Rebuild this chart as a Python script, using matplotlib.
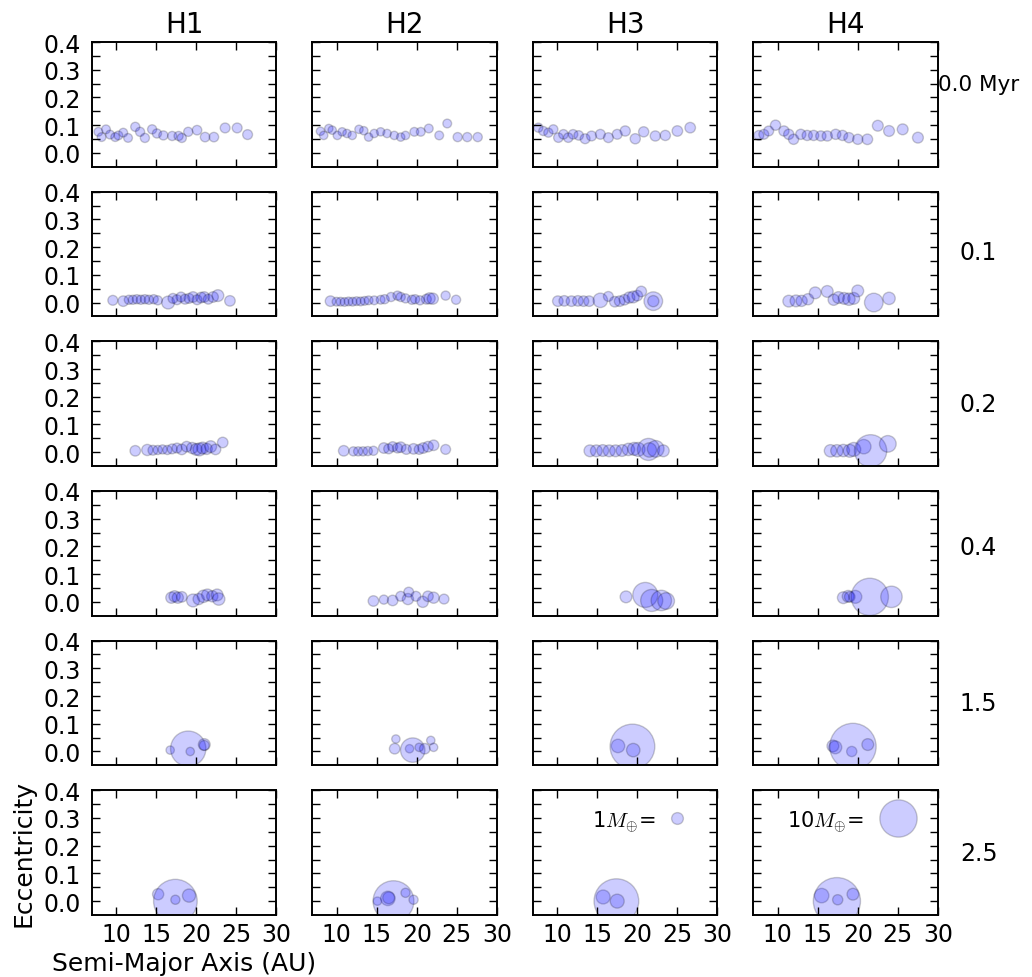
import matplotlib
matplotlib.use('Agg')
import matplotlib.pyplot as plt
import numpy as np

plt.rcParams['mathtext.fontset'] = 'cm'

runs = ['H1', 'H2', 'H3', 'H4']
times = ['0.0 Myr', '0.1', '0.2', '0.4', '1.5', '2.5']

# semi-major axis (AU), eccentricity, mass (Earth masses) for each run / snapshot

# t = 0.0 Myr
a_h1_0 = [7.8, 8.2, 8.75, 9.25, 9.9, 10.3, 10.9, 11.5, 12.4, 13.0, 13.6, 14.5, 15.1, 15.9, 17.0, 17.8, 18.2, 19.0, 20.1, 21.1, 22.2, 23.6, 25.1, 26.4]
e_h1_0 = [0.076, 0.057, 0.085, 0.066, 0.057, 0.063, 0.073, 0.054, 0.094, 0.076, 0.054, 0.085, 0.07, 0.063, 0.061, 0.061, 0.054, 0.076, 0.082, 0.057, 0.057, 0.09, 0.09, 0.066]
m_h1_0 = [0.55, 0.55, 0.55, 0.55, 0.55, 0.55, 0.55, 0.55, 0.6, 0.6, 0.6, 0.6, 0.6, 0.6, 0.6, 0.6, 0.6, 0.6, 0.65, 0.65, 0.65, 0.7, 0.7, 0.7]
a_h2_0 = [8.0, 8.4, 9.04, 9.46, 10.1, 10.7, 11.3, 11.96, 12.8, 13.4, 14.0, 14.7, 15.5, 16.3, 17.2, 18.0, 18.6, 19.7, 20.5, 21.5, 22.8, 23.8, 25.1, 26.3, 27.6]
e_h2_0 = [0.078, 0.063, 0.088, 0.082, 0.063, 0.076, 0.07, 0.063, 0.085, 0.08, 0.057, 0.07, 0.076, 0.07, 0.063, 0.057, 0.063, 0.076, 0.076, 0.088, 0.063, 0.106, 0.057, 0.057, 0.057]
m_h2_0 = [0.5, 0.5, 0.5, 0.5, 0.5, 0.5, 0.5, 0.5, 0.5, 0.5, 0.5, 0.5, 0.5, 0.5, 0.5, 0.5, 0.5, 0.55, 0.55, 0.55, 0.55, 0.55, 0.6, 0.6, 0.6]
a_h3_0 = [7.67, 8.29, 8.92, 9.54, 10.17, 10.8, 11.4, 12.0, 12.7, 13.5, 14.3, 15.4, 16.4, 17.5, 18.5, 19.75, 20.8, 22.25, 23.5, 25.0, 26.6]
e_h3_0 = [0.091, 0.079, 0.073, 0.085, 0.055, 0.067, 0.055, 0.067, 0.063, 0.051, 0.061, 0.067, 0.055, 0.067, 0.079, 0.051, 0.076, 0.061, 0.063, 0.079, 0.091]
m_h3_0 = [0.6, 0.6, 0.6, 0.6, 0.65, 0.65, 0.65, 0.65, 0.65, 0.7, 0.7, 0.7, 0.7, 0.7, 0.75, 0.75, 0.75, 0.75, 0.75, 0.8, 0.8]
a_h4_0 = [7.67, 8.29, 8.9, 9.75, 10.8, 11.4, 12.0, 12.9, 13.7, 14.5, 15.4, 16.2, 17.25, 18.1, 18.9, 20.0, 21.2, 22.5, 23.9, 25.6, 27.5]
e_h4_0 = [0.063, 0.067, 0.079, 0.1, 0.079, 0.067, 0.049, 0.067, 0.063, 0.063, 0.061, 0.061, 0.067, 0.063, 0.055, 0.049, 0.049, 0.098, 0.079, 0.085, 0.055]
m_h4_0 = [0.7, 0.7, 0.7, 0.75, 0.75, 0.75, 0.75, 0.75, 0.75, 0.75, 0.75, 0.75, 0.75, 0.75, 0.75, 0.75, 0.8, 0.85, 0.85, 0.85, 0.85]

# t = 0.1 Myr
a_h1_1 = [9.6, 10.9, 11.6, 12.1, 12.6, 13.1, 13.6, 14.1, 14.7, 15.2, 16.5, 17.1, 17.6, 18.1, 18.6, 19.1, 19.6, 20.1, 20.6, 21.0, 21.5, 22.1, 22.7, 24.2]
e_h1_1 = [0.008, 0.005, 0.01, 0.01, 0.012, 0.01, 0.012, 0.01, 0.012, 0.008, 0.0, 0.015, 0.01, 0.02, 0.012, 0.015, 0.02, 0.01, 0.018, 0.02, 0.012, 0.02, 0.025, 0.006]
m_h1_1 = [0.7, 0.8, 0.6, 0.6, 0.6, 0.6, 0.6, 0.6, 0.6, 0.6, 1.2, 0.7, 0.7, 0.7, 0.7, 0.7, 0.8, 0.7, 0.8, 0.8, 0.7, 0.8, 1.0, 0.8]
a_h2_1 = [9.25, 10.0, 10.5, 11.0, 11.5, 12.0, 12.5, 13.0, 13.5, 14.0, 14.7, 15.5, 16.0, 16.8, 17.6, 18.0, 18.6, 19.4, 19.8, 20.4, 21.2, 21.6, 22.0, 23.6, 24.9]
e_h2_1 = [0.005, 0.003, 0.003, 0.002, 0.004, 0.003, 0.005, 0.004, 0.006, 0.008, 0.008, 0.01, 0.012, 0.02, 0.025, 0.02, 0.015, 0.01, 0.012, 0.008, 0.012, 0.015, 0.014, 0.025, 0.01]
m_h2_1 = [0.8, 0.55, 0.55, 0.55, 0.55, 0.55, 0.55, 0.55, 0.55, 0.55, 0.55, 0.55, 0.6, 0.6, 0.6, 0.6, 0.6, 0.6, 0.6, 0.6, 0.7, 0.9, 0.9, 0.6, 0.6]
a_h3_1 = [10.1, 10.9, 11.8, 12.6, 13.3, 14.0, 15.4, 16.4, 17.2, 17.8, 18.4, 19.0, 19.5, 20.0, 20.5, 22.0, 22.0]
e_h3_1 = [0.005, 0.006, 0.005, 0.006, 0.005, 0.005, 0.008, 0.022, 0.003, 0.005, 0.01, 0.018, 0.02, 0.025, 0.04, 0.005, 0.005]
m_h3_1 = [0.8, 0.8, 0.8, 0.8, 0.8, 0.8, 1.5, 0.7, 0.8, 0.8, 0.8, 0.9, 1.0, 0.8, 0.8, 2.5, 0.9]
a_h4_1 = [11.4, 12.3, 13.0, 13.8, 14.7, 16.2, 17.0, 17.6, 18.3, 18.9, 19.5, 20.0, 22.0, 23.9]
e_h4_1 = [0.005, 0.006, 0.006, 0.012, 0.035, 0.04, 0.01, 0.018, 0.015, 0.012, 0.015, 0.042, 0.0, 0.015]
m_h4_1 = [1.0, 1.0, 0.9, 0.9, 1.0, 1.0, 0.9, 1.0, 1.0, 1.1, 1.0, 1.0, 2.5, 1.1]

# t = 0.2 Myr
a_h1_2 = [12.4, 13.9, 14.6, 15.2, 15.8, 16.4, 17.0, 17.6, 18.2, 18.8, 19.5, 20.0, 20.4, 20.8, 21.3, 21.8, 22.4, 23.3]
e_h1_2 = [0.005, 0.008, 0.007, 0.008, 0.01, 0.008, 0.012, 0.015, 0.01, 0.02, 0.015, 0.01, 0.01, 0.015, 0.012, 0.02, 0.01, 0.035]
m_h1_2 = [0.8, 0.9, 0.7, 0.6, 0.6, 0.6, 0.7, 0.7, 0.8, 0.8, 0.9, 1.0, 1.2, 1.0, 0.9, 1.0, 0.8, 0.8]
a_h2_2 = [10.9, 12.1, 12.7, 13.3, 13.9, 14.6, 15.9, 16.5, 17.0, 17.6, 18.0, 18.7, 19.6, 20.3, 20.8, 21.4, 22.1, 23.6]
e_h2_2 = [0.005, 0.003, 0.003, 0.003, 0.004, 0.005, 0.015, 0.012, 0.02, 0.015, 0.018, 0.01, 0.012, 0.01, 0.015, 0.02, 0.025, 0.01]
m_h2_2 = [0.8, 0.6, 0.6, 0.6, 0.6, 0.6, 0.8, 0.7, 0.7, 0.7, 0.8, 0.7, 0.8, 0.7, 0.8, 0.8, 0.8, 0.7]
a_h3_2 = [14.1, 14.9, 15.7, 16.5, 17.3, 18.1, 18.9, 19.6, 20.1, 21.4, 21.5, 22.3, 23.25]
e_h3_2 = [0.005, 0.005, 0.006, 0.005, 0.005, 0.006, 0.01, 0.012, 0.01, 0.01, 0.008, 0.012, 0.005]
m_h3_2 = [1.0, 1.0, 1.0, 1.0, 1.0, 1.0, 1.1, 1.2, 1.4, 3.5, 1.5, 2.0, 1.0]
a_h4_2 = [16.6, 17.4, 18.2, 19.0, 19.5, 20.75, 21.6, 23.75]
e_h4_2 = [0.005, 0.005, 0.006, 0.005, 0.01, 0.02, 0.005, 0.03]
m_h4_2 = [1.1, 1.1, 1.1, 1.2, 1.4, 1.5, 7.5, 2.0]

# t = 0.4 Myr
a_h1_3 = [16.9, 17.3, 17.7, 18.2, 19.6, 20.3, 20.9, 21.4, 22.0, 22.6, 22.8]
e_h1_3 = [0.015, 0.02, 0.015, 0.018, 0.005, 0.01, 0.02, 0.025, 0.02, 0.025, 0.01]
m_h1_3 = [0.9, 0.9, 0.9, 0.8, 1.2, 0.9, 1.1, 1.0, 0.9, 1.0, 1.1]
a_h2_3 = [14.6, 15.9, 17.0, 18.0, 18.9, 19.0, 19.9, 20.75, 21.4, 22.1, 23.4]
e_h2_3 = [0.003, 0.008, 0.005, 0.02, 0.01, 0.035, 0.02, 0.0, 0.02, 0.015, 0.01]
m_h2_3 = [0.8, 0.6, 0.8, 0.7, 0.9, 0.7, 0.7, 0.9, 0.8, 0.9, 0.7]
a_h3_3 = [18.6, 21.0, 21.8, 23.0, 23.6]
e_h3_3 = [0.018, 0.025, 0.005, 0.005, 0.003]
m_h3_3 = [1.0, 4.5, 3.5, 3.0, 2.0]
a_h4_3 = [18.2, 18.8, 19.0, 19.7, 21.5, 24.2]
e_h4_3 = [0.015, 0.02, 0.018, 0.018, 0.018, 0.018]
m_h4_3 = [1.0, 1.0, 0.8, 1.2, 10.0, 3.3]

# t = 1.5 Myr
a_h1_4 = [16.75, 19.0, 19.25, 21.0, 21.0]
e_h1_4 = [0.005, 0.01, 0.0, 0.025, 0.022]
m_h1_4 = [0.5, 9.0, 0.5, 1.0, 0.7]
a_h2_4 = [17.25, 17.4, 19.1, 19.5, 20.3, 21.0, 21.75, 22.1]
e_h2_4 = [0.01, 0.045, 0.01, 0.005, 0.015, 0.01, 0.04, 0.015]
m_h2_4 = [0.8, 0.5, 0.5, 4.3, 0.5, 0.8, 0.5, 0.5]
a_h3_4 = [17.6, 19.4, 19.5]
e_h3_4 = [0.02, 0.018, 0.005]
m_h3_4 = [1.3, 14.4, 1.3]
a_h4_4 = [16.9, 17.2, 19.25, 19.4, 21.25]
e_h4_4 = [0.02, 0.015, 0.0, 0.018, 0.025]
m_h4_4 = [1.0, 1.2, 0.75, 15.5, 1.0]

# t = 2.5 Myr
a_h1_5 = [15.25, 17.4, 17.4, 19.1]
e_h1_5 = [0.025, 0.0, 0.005, 0.02]
m_h1_5 = [0.9, 13.7, 0.6, 1.25]
a_h2_5 = [15.1, 16.4, 16.5, 17.1, 18.6, 19.6]
e_h2_5 = [0.0, 0.01, 0.012, 0.0, 0.03, 0.005]
m_h2_5 = [0.5, 1.5, 1.0, 12.0, 0.6, 0.6]
a_h3_5 = [15.75, 17.4, 17.5]
e_h3_5 = [0.015, 0.0, 0.0]
m_h3_5 = [1.4, 14.4, 1.4]
a_h4_5 = [15.5, 17.4, 17.5, 19.4]
e_h4_5 = [0.02, 0.0, 0.005, 0.025]
m_h4_5 = [1.5, 16.0, 0.75, 1.0]

# mass scale markers
key_mass = [1.0, 10.0]
key_a = 25.0
key_e = 0.3

snapshots = [
	[(a_h1_0, e_h1_0, m_h1_0), (a_h2_0, e_h2_0, m_h2_0), (a_h3_0, e_h3_0, m_h3_0), (a_h4_0, e_h4_0, m_h4_0)],
	[(a_h1_1, e_h1_1, m_h1_1), (a_h2_1, e_h2_1, m_h2_1), (a_h3_1, e_h3_1, m_h3_1), (a_h4_1, e_h4_1, m_h4_1)],
	[(a_h1_2, e_h1_2, m_h1_2), (a_h2_2, e_h2_2, m_h2_2), (a_h3_2, e_h3_2, m_h3_2), (a_h4_2, e_h4_2, m_h4_2)],
	[(a_h1_3, e_h1_3, m_h1_3), (a_h2_3, e_h2_3, m_h2_3), (a_h3_3, e_h3_3, m_h3_3), (a_h4_3, e_h4_3, m_h4_3)],
	[(a_h1_4, e_h1_4, m_h1_4), (a_h2_4, e_h2_4, m_h2_4), (a_h3_4, e_h3_4, m_h3_4), (a_h4_4, e_h4_4, m_h4_4)],
	[(a_h1_5, e_h1_5, m_h1_5), (a_h2_5, e_h2_5, m_h2_5), (a_h3_5, e_h3_5, m_h3_5), (a_h4_5, e_h4_5, m_h4_5)],
]

msize = 72.0  # points^2 per Earth mass
label_y = [0.66, 0.52, 0.5, 0.55, 0.5, 0.5]


def planets(ax, a, e, m):
	ax.scatter(a, e, s=msize * np.array(m), c='b', alpha=0.2,
			   edgecolors='k', linewidths=1.0)


fig, axes = plt.subplots(6, 4, figsize=(10.32, 9.78), dpi=100, sharex=True, sharey=True)
plt.subplots_adjust(left=0.0891, right=0.9089, top=0.956, bottom=0.0634,
					wspace=0.195, hspace=0.2)

for i in range(len(times)):
	for j in range(len(runs)):
		ax = axes[i, j]
		a, e, m = snapshots[i][j]
		planets(ax, a, e, m)

		ax.set_xlim(7, 30)
		ax.set_ylim(-0.05, 0.4)
		ax.set_xticks([10, 15, 20, 25, 30])
		ax.set_yticks([0.0, 0.1, 0.2, 0.3, 0.4])
		ax.set_yticks([0.05, 0.15, 0.25, 0.35], minor=True)
		ax.tick_params(which='both', direction='in', top=True, right=True,
					   length=6, width=1, labelsize=17)
		ax.tick_params(axis='y', pad=8)
		ax.tick_params(axis='x', pad=5)
		for sp in ax.spines.values():
			sp.set_linewidth(1.4)

		if i == 0:
			ax.set_title(runs[j], fontsize=20, pad=7)
		if j == 3:
			ax.text(1.22, label_y[i], times[i], transform=ax.transAxes,
					ha='center', va='center', fontsize=17 if i else 15.5)

# mass key in the last row
ax = axes[5, 2]
planets(ax, [key_a], [key_e], [key_mass[0]])
ax.text(22.3, key_e - 0.01, r'1$M_{\oplus}$=', ha='right', va='center', fontsize=15)
ax = axes[5, 3]
planets(ax, [key_a], [key_e], [key_mass[1]])
ax.text(20.8, key_e - 0.01, r'10$M_{\oplus}$=', ha='right', va='center', fontsize=15)

axes[5, 0].set_ylabel('Eccentricity', fontsize=18, labelpad=6)
axes[5, 0].set_xlabel('Semi-Major Axis (AU)', fontsize=18, labelpad=4)

fig.savefig('out.png', dpi=100)
